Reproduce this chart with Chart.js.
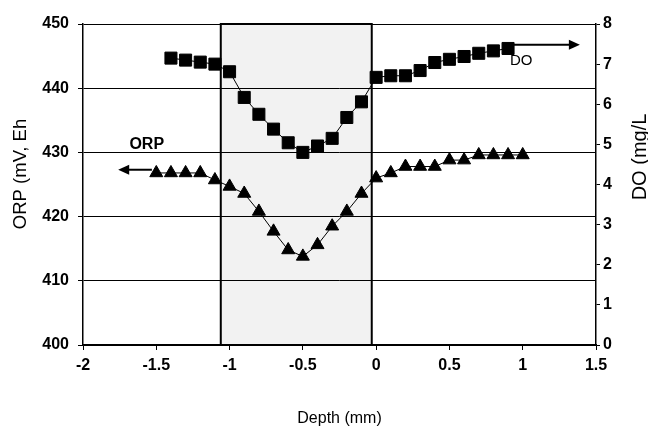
<!DOCTYPE html>
<html>
<head>
<meta charset="utf-8">
<script src="https://cdn.jsdelivr.net/npm/chart.js@4.4.1/dist/chart.umd.min.js"></script>
<style>
  body { margin: 0; background: #fff; }
  #wrap { width: 648px; height: 428px; }
</style>
</head>
<body>
<div id="wrap"><canvas id="chart" width="648" height="428"></canvas></div>
<script>
// Depth (mm) for each series
const depthORP = [-1.5, -1.4, -1.3, -1.2, -1.1, -1.0, -0.9, -0.8, -0.7, -0.6, -0.5, -0.4, -0.3,
  -0.2, -0.1, 0.0, 0.1, 0.2, 0.3, 0.4, 0.5, 0.6, 0.7, 0.8, 0.9, 1.0];
const orpValues = [426.8, 426.8, 426.8, 426.8, 425.7, 424.7, 423.6, 420.8, 417.7, 414.8, 413.8, 415.6, 418.5,
  420.8, 423.6, 426.0, 426.8, 427.8, 427.8, 427.8, 428.8, 428.8, 429.6, 429.6, 429.6, 429.6];

const depthDO = [-1.4, -1.3, -1.2, -1.1, -1.0, -0.9, -0.8, -0.7, -0.6, -0.5, -0.4, -0.3,
  -0.2, -0.1, 0.0, 0.1, 0.2, 0.3, 0.4, 0.5, 0.6, 0.7, 0.8, 0.9];
const doValues = [7.15, 7.10, 7.05, 7.00, 6.81, 6.17, 5.75, 5.38, 5.04, 4.80, 4.96, 5.15,
  5.67, 6.06, 6.67, 6.71, 6.71, 6.84, 7.04, 7.12, 7.19, 7.27, 7.33, 7.39];

// axis ranges / ticks
const depthTicks = [-2, 1.5, 0.5];   // min, max, step
const orpTicks = [400, 450, 10];
const doTicks = [0, 8, 1];

// shaded zone (depth) and series arrows: [fromX, toX, y]
const zoneDepth = [-1.06, -0.03];
const orpArrow = [-1.53, -1.76, 427.3];
const doArrow = [0.93, 1.39, 7.48];
const orpLabel = ["ORP", -1.565, 431.2];
const doLabel = ["DO", 0.99, 7.08];

Chart.defaults.font.family = "'Liberation Sans', Arial, sans-serif";
Chart.defaults.color = "#000";

const toPoints = (xs, ys) => xs.map((x, i) => ({ x: x, y: ys[i] }));

function arrow(ctx, x1, x2, y) {
  const dir = x2 > x1 ? 1 : -1;
  ctx.beginPath();
  ctx.moveTo(x1, y);
  ctx.lineTo(x2 - dir * 8, y);
  ctx.stroke();
  ctx.beginPath();
  ctx.moveTo(x2, y);
  ctx.lineTo(x2 - dir * 11, y - 5);
  ctx.lineTo(x2 - dir * 11, y + 5);
  ctx.closePath();
  ctx.fill();
}

const extras = {
  id: "extras",
  beforeDraw(chart) {
    const { ctx, chartArea, scales } = chart;
    const x1 = scales.x.getPixelForValue(zoneDepth[0]);
    const x2 = scales.x.getPixelForValue(zoneDepth[1]);
    ctx.save();
    ctx.fillStyle = "#f2f2f2";
    ctx.fillRect(x1, chartArea.top, x2 - x1, chartArea.bottom - chartArea.top);
    ctx.restore();
  },
  beforeDatasetsDraw(chart) {
    const { ctx, chartArea, scales } = chart;
    const x1 = scales.x.getPixelForValue(zoneDepth[0]);
    const x2 = scales.x.getPixelForValue(zoneDepth[1]);
    ctx.save();
    ctx.strokeStyle = "#000";
    ctx.lineWidth = 2;
    ctx.strokeRect(x1, chartArea.top, x2 - x1, chartArea.bottom - chartArea.top);
    ctx.restore();
  },
  afterDraw(chart) {
    const { ctx, chartArea, scales } = chart;
    const x = scales.x, y = scales.y, y2 = scales.y2;
    ctx.save();
    ctx.strokeStyle = "#000";
    ctx.fillStyle = "#000";
    ctx.lineWidth = 2;
    arrow(ctx, x.getPixelForValue(orpArrow[0]), x.getPixelForValue(orpArrow[1]), y.getPixelForValue(orpArrow[2]));
    arrow(ctx, x.getPixelForValue(doArrow[0]), x.getPixelForValue(doArrow[1]), y2.getPixelForValue(doArrow[2]));

    ctx.textAlign = "center";
    ctx.textBaseline = "middle";
    ctx.font = "bold 16px 'Liberation Sans', Arial, sans-serif";
    ctx.fillText(orpLabel[0], x.getPixelForValue(orpLabel[1]), y.getPixelForValue(orpLabel[2]));
    ctx.font = "15px 'Liberation Sans', Arial, sans-serif";
    ctx.fillText(doLabel[0], x.getPixelForValue(doLabel[1]), y2.getPixelForValue(doLabel[2]));

    // rotated axis titles (both read bottom to top)
    ctx.font = "18.5px 'Liberation Sans', Arial, sans-serif";
    ctx.translate(21, 174);
    ctx.rotate(-Math.PI / 2);
    ctx.fillText("ORP (mV, Eh", 0, 0);
    ctx.setTransform(1, 0, 0, 1, 0, 0);
    ctx.font = "20px 'Liberation Sans', Arial, sans-serif";
    ctx.translate(chartArea.right + 44, 157);
    ctx.rotate(-Math.PI / 2);
    ctx.fillText("DO (mg/L", 0, 0);
    ctx.restore();
  }
};

const tickFont = { size: 16, weight: "bold" };

new Chart(document.getElementById("chart"), {
  type: "scatter",
  data: {
    datasets: [
      {
        label: "ORP",
        data: toPoints(depthORP, orpValues),
        yAxisID: "y",
        showLine: true,
        borderColor: "#000",
        borderWidth: 1,
        backgroundColor: "#000",
        pointStyle: "triangle",
        pointRadius: 7.5,
        pointHoverRadius: 7.5
      },
      {
        label: "DO",
        data: toPoints(depthDO, doValues),
        yAxisID: "y2",
        showLine: true,
        borderColor: "#000",
        borderWidth: 1,
        backgroundColor: "#000",
        pointStyle: "rect",
        pointRadius: 8.5,
        pointHoverRadius: 8.5
      }
    ]
  },
  options: {
    responsive: false,
    animation: false,
    layout: { padding: { top: 24, left: 0, right: 0, bottom: 0 } },
    plugins: {
      legend: { display: false },
      tooltip: { enabled: false }
    },
    scales: {
      x: {
        type: "linear",
        min: depthTicks[0],
        max: depthTicks[1],
        ticks: {
          stepSize: depthTicks[2],
          font: tickFont,
          padding: 6,
          callback: (v) => String(Number(v.toFixed(1)))
        },
        grid: { drawOnChartArea: false, color: "#000", tickLength: 5 },
        border: { color: "#000", width: 1.5 },
        title: {
          display: true,
          text: "Depth (mm)",
          font: { size: 16 },
          padding: { top: 0, bottom: 0 }
        },
        afterFit: (s) => { s.height = 83; }
      },
      y: {
        position: "left",
        min: orpTicks[0],
        max: orpTicks[1],
        ticks: { stepSize: orpTicks[2], font: tickFont, padding: 9 },
        grid: { color: "#000", lineWidth: 1, tickLength: 5 },
        border: { color: "#000", width: 1.5 },
        afterFit: (s) => { s.width = 83; }
      },
      y2: {
        position: "right",
        min: doTicks[0],
        max: doTicks[1],
        ticks: { stepSize: doTicks[2], font: tickFont, padding: 3 },
        grid: { drawOnChartArea: false, color: "#000", tickLength: 4 },
        border: { color: "#000", width: 1.5 },
        afterFit: (s) => { s.width = 52; }
      }
    }
  },
  plugins: [extras]
});
</script>
</body>
</html>
